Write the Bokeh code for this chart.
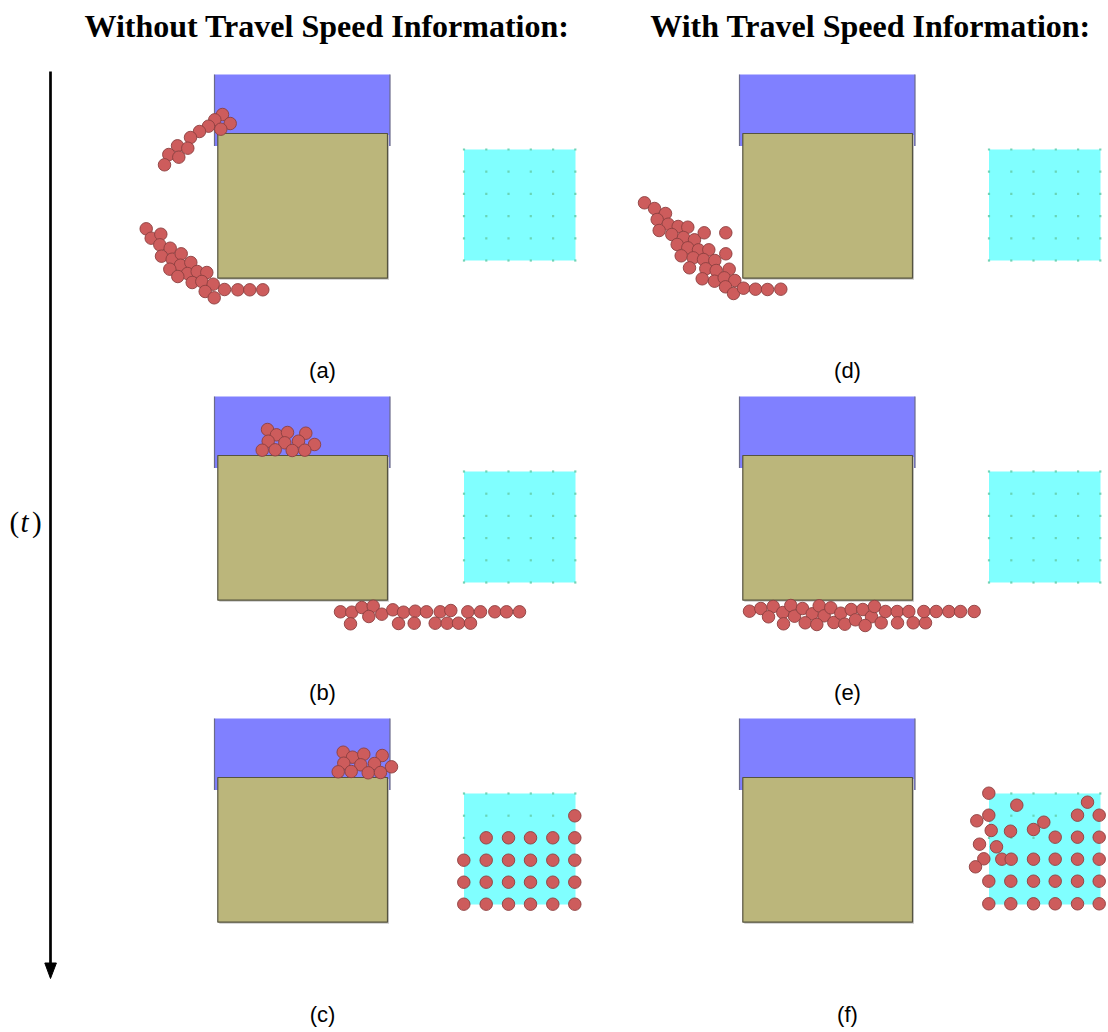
from bokeh.plotting import figure
from bokeh.models import Range1d
from bokeh.core.properties import value
from bokeh.embed import file_html
from bokeh.resources import INLINE

# ---------------- data ----------------
TITLES = ["Without Travel Speed Information:", "With Travel Speed Information:"]
PANEL_LABELS = [["(a)", "(b)", "(c)"], ["(d)", "(e)", "(f)"]]
COL_DX = [0, 525]
ROW_DY = [0, 322, 644]

# room geometry in the frame of panel (a)
BLUE_BOX = [214, 389.5, 74, 145.5]      # left, right, top, bottom
OLIVE_BOX = [217.3, 387, 133, 277.7]
CYAN_BOX = [463.5, 575, 149, 260]
GRID_X = [463.5, 485.8, 508, 530.3, 552.6, 574.8]
GRID_Y = [149, 171.2, 193.4, 215.6, 237.8, 260]

# agent positions per panel
A_X = [222, 214.3, 229.7, 220.3, 208, 199, 190, 177, 187.3, 168.3, 178.3, 164,
       145.7, 150.7, 160.3, 159.3, 169.7, 161, 171.7, 180.7, 180, 190.3, 169.3, 187,
       196.7, 206.3, 177.3, 191.7, 201.3, 212.7, 204.7, 213.7, 224, 237.3, 249.3, 262.3]
A_Y = [114, 119.3, 123, 128.7, 125.7, 131, 137, 145.3, 147.7, 154, 156.7, 164.3,
       228.3, 237.7, 233.7, 244.3, 247.7, 255.7, 258.7, 253.3, 264.7, 262, 268.7, 273,
       271, 272, 276, 282, 281, 283.7, 291, 297.3, 289, 289.3, 289.3, 289.3]

B_X = [267, 276, 287, 305.3, 267.7, 284.3, 298, 314, 261.7, 274.7, 291.7, 304.3,
       340, 351.3, 361.3, 372.7, 381.3, 368.3, 350, 392.3, 403, 414.7, 426, 439.7,
       450.3, 398, 413.7, 434.7, 446.7, 458, 470, 467.3, 480, 494.3, 506, 519]
B_Y = [429, 434.3, 432, 432.7, 440.7, 442.3, 440.7, 444, 449.7, 449.3, 450, 449.7,
       611.3, 611.7, 607, 605.7, 613.7, 616, 623.3, 609.3, 611.7, 610.7, 611.3, 611.3,
       610, 623, 622.7, 622.7, 622.7, 622.7, 622.7, 611.3, 611.3, 611.3, 611.3, 611.3]

C_X = [342.7, 352, 363.3, 381.7, 343.3, 360.3, 374, 391, 337.7, 350.7, 367.7, 380,
       574.3,
       485.7, 508, 530, 552.3, 574.3,
       463.3, 485.7, 508, 530, 552.3, 574.3,
       463.3, 485.7, 508, 530, 552.3, 574.3,
       463.3, 485.7, 508, 530, 552.3, 574.3]
C_Y = [751.7, 756.7, 753.7, 755, 762.7, 764.3, 763, 766.3, 771.3, 771, 772.3, 772,
       815.3,
       837.3, 837.3, 837.3, 837.3, 837.3,
       859.7, 859.7, 859.7, 859.7, 859.7, 859.7,
       881.7, 881.7, 881.7, 881.7, 881.7, 881.7,
       903.7, 903.7, 903.7, 903.7, 903.7, 903.7]

D_X = [644, 654, 665, 656.7, 667.7, 677.7, 687.3, 658.7, 671.3, 683, 694, 703.7,
       725.3, 676.7, 687.3, 698, 708.3, 680.7, 692.7, 703, 714.3, 725.3, 689, 705.3,
       715.7, 728.7, 701.7, 714, 723.7, 734.3, 725, 733, 743, 755, 767, 780.3]
D_Y = [202.3, 208, 213, 219, 223.7, 226, 226.7, 230, 234, 237, 239.3, 232.3,
       232.3, 244, 247.3, 249.3, 249.3, 255.3, 257.3, 259, 260, 253.3, 267.3, 268.3,
       270, 268.7, 278.3, 280.7, 277.3, 280, 286.3, 293, 287.7, 288.7, 289, 288.7]

E_X = [749, 760.3, 772.7, 768, 782.3, 790.3, 794, 783, 802, 811.7, 818.7, 823.7,
       830.3, 804.7, 816.3, 833.3, 840.3, 844.3, 850.7, 855, 862.3, 871, 874, 864.7,
       880.7, 885, 896.7, 897, 908.3, 912.7, 925, 923.3, 935.7, 948.3, 960, 973.7]
E_Y = [610.7, 608, 606, 616.3, 612, 605, 615.7, 623.3, 608, 613.3, 605.3, 615.3,
       607.3, 622.3, 624, 622, 612.7, 623.7, 609, 619.3, 609, 616.3, 606, 625,
       622.3, 611, 611, 622.3, 611, 622.3, 622.3, 611, 611, 611, 611, 611]

F_X = [988.3, 1016.3, 1087, 988.3, 976.3, 1043.3, 1077, 1098.7, 990.7, 1010, 1033, 1054.7,
       1077, 1098.7, 979, 996, 983.3, 1001.3, 1010.7, 1033, 1054.7, 1077, 1098.7, 975,
       988.3, 1010.3, 1033, 1054.7, 1077, 1098.7,
       988.3, 1010.3, 1033, 1054.7, 1077, 1098.7]
F_Y = [792.7, 804.7, 801.7, 814.7, 820.3, 821.7, 814.7, 814.7, 830, 830.7, 829, 836.7,
       836.7, 836.7, 843.7, 846.3, 858.3, 858.7, 858.7, 858.7, 858.7, 858.7, 858.7, 866.3,
       880.7, 880.7, 880.7, 880.7, 880.7, 880.7,
       903.3, 903.3, 903.3, 903.3, 903.3, 903.3]

AGENTS = [[(A_X, A_Y), (B_X, B_Y), (C_X, C_Y)],
          [(D_X, D_Y), (E_X, E_Y), (F_X, F_Y)]]

# ---------------- figure ----------------
p = figure(width=1108, height=1032, x_range=Range1d(0, 1108), y_range=Range1d(1032, 0),
           output_backend="svg", toolbar_location=None, min_border=0,
           x_axis_type=None, y_axis_type=None, outline_line_color=None)
p.grid.visible = False
p.background_fill_color = "white"
p.border_fill_color = "white"

for ci, dx in enumerate(COL_DX):
    for ri, dy in enumerate(ROW_DY):
        bl, br, bt, bb = BLUE_BOX
        p.quad(left=bl + dx, right=br + dx, top=bt + dy, bottom=bb + dy,
               fill_color="#8080ff", line_color=None)
        p.segment(x0=[bl + dx, br + dx], y0=[bt + dy, bt + dy],
                  x1=[bl + dx, br + dx], y1=[bb + dy, bb + dy],
                  line_color="#6a6a8a", line_width=1.2)
        ol, orr, ot, ob = OLIVE_BOX
        p.quad(left=ol + dx + 1.5, right=orr + dx + 1.5, top=ot + dy + 1.5, bottom=ob + dy + 1.5,
               fill_color="#c9c9c9", line_color=None)
        p.quad(left=ol + dx, right=orr + dx, top=ot + dy, bottom=ob + dy,
               fill_color="#bbb67b", line_color="#55533f", line_width=1.2)
        cl, cr, ct, cb = CYAN_BOX
        p.quad(left=cl + dx, right=cr + dx, top=ct + dy, bottom=cb + dy,
               fill_color="#80ffff", line_color=None)
        gx = [x + dx for x in GRID_X for _ in GRID_Y]
        gy = [y + dy for _ in GRID_X for y in GRID_Y]
        p.scatter(gx, gy, marker="square", size=2.2, fill_color="#66cfae",
                  line_color=None, fill_alpha=0.9)
        xs, ys = AGENTS[ci][ri]
        p.scatter(xs, ys, size=12.5, fill_color="#cd5c5c", line_color="#8c4040",
                  line_width=0.9)
        p.text(x=[322 + dx], y=[370 + dy], text=[PANEL_LABELS[ci][ri]],
               text_font=value("Liberation Sans"), text_font_size="22px",
               text_align="center", text_baseline="middle", text_color="black")

# titles
p.text(x=[326.5, 870], y=[25, 25], text=TITLES, text_font=value("Liberation Serif"),
       text_font_size="32px", text_font_style="bold", text_align="center",
       text_baseline="middle", text_color="black")

# time arrow
p.segment(x0=[50], y0=[71], x1=[50], y1=[966], line_color="black", line_width=2.7)
p.patch(x=[44.3, 55.9, 50], y=[962.5, 962.5, 978], fill_color="black", line_color="black",
        line_width=1)

# (t) label
p.text(x=[9], y=[521], text=["("], text_font=value("Liberation Serif"),
       text_font_size="29px", text_align="left", text_baseline="middle")
p.text(x=[20], y=[521], text=["t"], text_font=value("Liberation Serif"),
       text_font_size="29px", text_font_style="italic", text_align="left",
       text_baseline="middle")
p.text(x=[31.5], y=[521], text=[")"], text_font=value("Liberation Serif"),
       text_font_size="29px", text_align="left", text_baseline="middle")

open("out.html", "w").write(file_html(p, INLINE))
